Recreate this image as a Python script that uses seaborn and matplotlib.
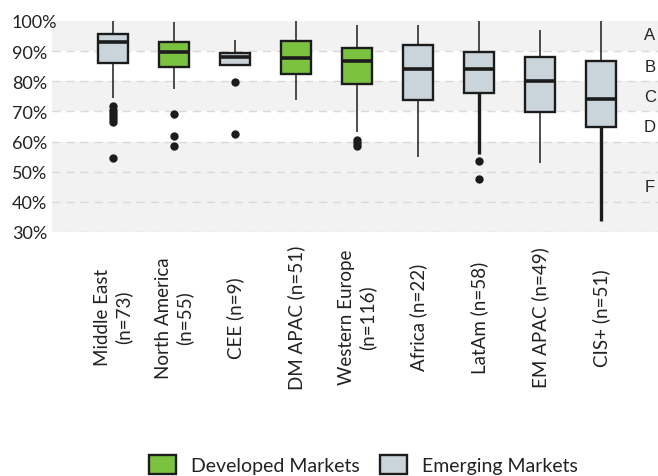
import numpy as np
import pandas as pd
import seaborn as sns
import matplotlib.pyplot as plt
from matplotlib.ticker import PercentFormatter

# ---------------- data ----------------
regions = ["Middle East\n(n=73)", "North America\n(n=55)", "CEE (n=9)", "DM APAC (n=51)",
           "Western Europe\n(n=116)", "Africa (n=22)", "LatAm (n=58)", "EM APAC (n=49)", "CIS+ (n=51)"]
markets = ["Emerging Markets", "Developed Markets", "Emerging Markets", "Developed Markets",
           "Developed Markets", "Emerging Markets", "Emerging Markets", "Emerging Markets",
           "Emerging Markets"]
whisker_low = [0.746, 0.776, 0.855, 0.739, 0.632, 0.550, 0.558, 0.528, 0.337]
q1 = [0.860, 0.849, 0.855, 0.823, 0.791, 0.739, 0.761, 0.697, 0.647]
median = [0.931, 0.896, 0.880, 0.877, 0.867, 0.840, 0.840, 0.801, 0.742]
q3 = [0.957, 0.931, 0.894, 0.934, 0.909, 0.921, 0.896, 0.881, 0.866]
whisker_high = [1.000, 0.998, 0.938, 1.000, 0.988, 0.988, 1.000, 0.971, 1.000]

outlier_region = [regions[0]] * 7 + [regions[1]] * 3 + [regions[2]] * 2 + [regions[4]] * 3 + [regions[6]] * 2
outlier_value = [0.717, 0.705, 0.695, 0.685, 0.675, 0.665, 0.545,
                 0.693, 0.619, 0.585,
                 0.796, 0.625,
                 0.605, 0.595, 0.585,
                 0.534, 0.477]

grade_letters = ["A", "B", "C", "D", "F"]
grade_pos = [0.955, 0.85, 0.75, 0.65, 0.45]

hue_order = ["Developed Markets", "Emerging Markets"]
palette = {"Developed Markets": "#7cc241", "Emerging Markets": "#c9d4db"}

# build long-form table: five-number summary per region
rows = []
for r, m, a, b, c, d, e in zip(regions, markets, whisker_low, q1, median, q3, whisker_high):
    for v in (a, b, c, d, e):
        rows.append({"region": r, "market": m, "value": v})
df = pd.DataFrame(rows)
out_df = pd.DataFrame({"region": outlier_region, "value": outlier_value})

# ---------------- plot ----------------
sns.set_theme(style="white")
plt.rcParams["font.family"] = ["Lato", "DejaVu Sans"]

fig, ax = plt.subplots(figsize=(6.58, 4.77), dpi=100)
fig.subplots_adjust(left=52 / 658, right=1.0, bottom=1 - 233 / 477, top=1 - 22 / 477)

# grade bands
band_edges = [(0.9, 1.0, "#f2f2f2"), (0.8, 0.9, "white"), (0.7, 0.8, "#f2f2f2"),
              (0.6, 0.7, "white"), (0.3, 0.6, "#f2f2f2")]
for lo, hi, col in band_edges:
    ax.axhspan(lo, hi, color=col, zorder=0, lw=0)
for y in [0.3, 0.4, 0.5, 0.6, 0.7, 0.8, 0.9]:
    ax.axhline(y, color="#d9d9d9", lw=1, ls=(0, (5.8, 4.3)), zorder=0.5)

sns.boxplot(data=df, x="region", y="value", hue="market", order=regions,
            hue_order=hue_order, palette=palette, saturation=1, dodge=False, width=0.5,
            whis=np.inf, showfliers=False, linecolor="#1c1c1c", linewidth=1.7,
            medianprops=dict(linewidth=2.6, color="#1c1c1c"),
            whiskerprops=dict(linewidth=1.1),
            capprops=dict(linewidth=0), ax=ax)

sns.stripplot(data=out_df, x="region", y="value", order=regions, jitter=False,
              color="#1c1c1c", size=6, ax=ax, zorder=3)

# thicker lower whiskers where outliers are dense
for line in ax.lines:
    xd = np.asarray(line.get_xdata(), dtype=float)
    yd = np.asarray(line.get_ydata(), dtype=float)
    if len(xd) == 2 and xd[0] == xd[1] and xd[0] in (6.0, 8.0):
        idx = int(xd[0])
        if np.isclose(max(yd), q1[idx]) and min(yd) < q1[idx] - 0.01:
            line.set_linewidth(2.4)

ax.set_xlim(-1, 8.934)
ax.set_ylim(0.3, 1.0)
ax.set_yticks([0.3, 0.4, 0.5, 0.6, 0.7, 0.8, 0.9, 1.0])
ax.yaxis.set_major_formatter(PercentFormatter(1.0, decimals=0))
ax.set_xlabel("")
ax.set_ylabel("")
for s in ax.spines.values():
    s.set_visible(False)

ax.tick_params(axis="y", length=0, pad=28.8, labelsize=13, labelcolor="#222222")
for t in ax.get_yticklabels():
    t.set_ha("left")
ax.tick_params(axis="x", length=0, pad=61, labelsize=13.5, labelcolor="#222222")
for t in ax.get_xticklabels():
    t.set_rotation(90)
    t.set_va("center")
    t.set_ha("center")
    t.set_multialignment("center")

for letter, yp in zip(grade_letters, grade_pos):
    ax.text(8.8, yp, letter, ha="center", va="center", fontsize=12,
            family=["Liberation Sans", "DejaVu Sans"], color="#222222")

sns.move_legend(ax, "center", bbox_to_anchor=(0.514, -1.104), ncol=2, frameon=False,
                title=None, fontsize=14, handlelength=1.4, handleheight=1.1,
                columnspacing=1.0, handletextpad=0.8)
for t in ax.get_legend().get_texts():
    t.set_color("#222222")

fig.savefig("out.png", dpi=100)
